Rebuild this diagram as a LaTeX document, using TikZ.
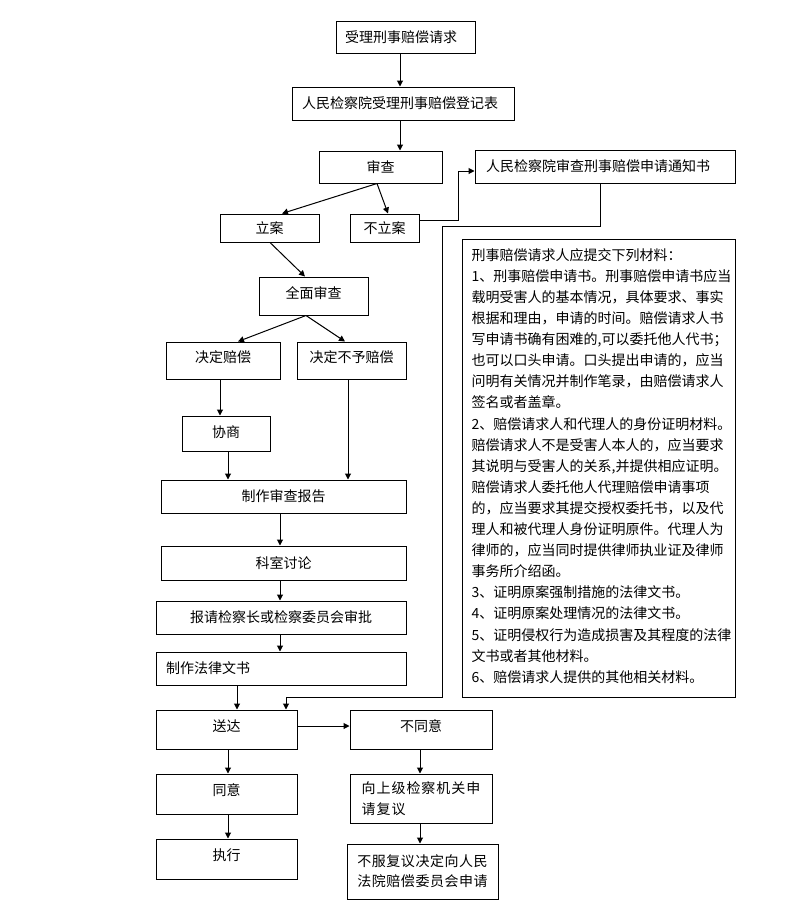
\documentclass[tikz,border=0pt]{standalone}
\usepackage{fontspec}
\setmainfont{Noto Sans CJK SC}
\newfontfamily\cjkwideA[LetterSpace=7]{Noto Sans CJK SC}
\newfontfamily\cjkwideB[LetterSpace=4]{Noto Sans CJK SC}
\usetikzlibrary{arrows.meta}
\begin{document}
\begin{tikzpicture}[x=1pt,y=-1pt,
  box/.style={draw, line width=1pt, inner ysep=0pt, font=\fontsize{14}{21}\selectfont},
  one/.style={text height=10.5pt, text depth=#1},
  one/.default=0pt,
  lbox/.style={align=left, inner xsep=#1},
  arr/.style={line width=1pt, -{Triangle[length=6pt,width=6pt]}}]
\useasboundingbox (0,0) rectangle (793,921);

\node[box, one, lbox=9pt, text width=121pt, minimum width=139pt, minimum height=32pt] (b1) at (405.5,37) {受理刑事赔偿请求};
\node[box, one, lbox=10pt, text width=202pt, minimum width=222pt, minimum height=33pt] (b2) at (403,103.5) {人民检察院受理刑事赔偿登记表};
\node[box, one, minimum width=123pt, minimum height=32pt] (b3) at (380.5,167) {审查};
\node[box, one, lbox=11pt, text width=238pt, minimum width=260pt, minimum height=33pt] (b4) at (605,166.5) {人民检察院审查刑事赔偿申请通知书};
\node[box, one, minimum width=99pt, minimum height=28pt] (b5) at (269.5,228) {立案};
\node[box, one, minimum width=69pt, minimum height=28pt] (b6) at (384.5,228) {不立案};
\node[box, one=6pt, minimum width=109pt, minimum height=38pt] (b7) at (313.5,296) {全面审查};
\node[box, one=7pt, minimum width=114pt, minimum height=37pt] (b8) at (223,360.5) {决定赔偿};
\node[box, one=7pt, minimum width=109pt, minimum height=37pt] (b9) at (351.5,360.5) {决定不予赔偿};
\node[box, one=3pt, minimum width=88pt, minimum height=35pt] (b10) at (226,433.5) {协商};
\node[box, one, minimum width=245pt, minimum height=33pt] (b11) at (283.5,496.5) {制作审查报告};
\node[box, one, minimum width=245pt, minimum height=34pt] (b12) at (283.5,563) {科室讨论};
\node[box, one, minimum width=250pt, minimum height=33pt] (b13) at (281,617.5) {报请检察长或检察委员会审批};
\node[box, one, lbox=10pt, text width=230pt, minimum width=250pt, minimum height=33pt] (b14) at (281,668.5) {制作法律文书};
\node[box, one=7pt, minimum width=141pt, minimum height=39pt] (b15) at (226.5,729.5) {送达};
\node[box, one=7pt, minimum width=142pt, minimum height=39pt] (b16) at (421,729.5) {不同意};
\node[box, one=8pt, minimum width=141pt, minimum height=40pt] (b17) at (226.5,794) {同意};
\node[box, one=8pt, minimum width=141pt, minimum height=40pt] (b18) at (226.5,859) {执行};
\node[box, align=left, minimum width=142pt, minimum height=49pt, font=\cjkwideA\fontsize{14}{21}\selectfont] (b19) at (421,798.5) {向上级检察机关申\\请复议};
\node[box, align=left, minimum width=151pt, minimum height=55pt, font=\cjkwideB\fontsize{14}{20}\selectfont] (b20) at (422.5,871.5) {不服复议决定向人民\\法院赔偿委员会申请};

\node[draw, line width=1pt, minimum width=273pt, minimum height=458pt, inner sep=0pt] (mat) at (598.5,468) {};
\node[anchor=north west, inner sep=0pt, align=left, font=\fontsize{14}{21.1}\selectfont] (mattext) at ([xshift=10pt,yshift=-9.7pt]mat.north west) {%
刑事赔偿请求人应提交下列材料：\\
1、刑事赔偿申请书。刑事赔偿申请书应当\\
载明受害人的基本情况，具体要求、事实\\
根据和理由，申请的时间。赔偿请求人书\\
写申请书确有困难的,可以委托他人代书；\\
也可以口头申请。口头提出申请的，应当\\
问明有关情况并制作笔录，由赔偿请求人\\
签名或者盖章。\\
2、赔偿请求人和代理人的身份证明材料。\\
赔偿请求人不是受害人本人的，应当要求\\
其说明与受害人的关系,并提供相应证明。\\
赔偿请求人委托他人代理赔偿申请事项\\
的，应当要求其提交授权委托书，以及代\\
理人和被代理人身份证明原件。代理人为\\
律师的，应当同时提供律师执业证及律师\\
事务所介绍函。\\
3、证明原案强制措施的法律文书。\\
4、证明原案处理情况的法律文书。\\
5、证明侵权行为造成损害及其程度的法律\\
文书或者其他材料。\\
6、赔偿请求人提供的其他相关材料。};

\draw[arr] ([xshift=-5.5pt]b1.south) -- ([xshift=-3pt]b2.north);
\draw[arr] ([xshift=-3pt]b2.south) -- ([xshift=19.5pt]b3.north);
\draw[arr] ([xshift=-3.5pt]b3.south) -- ([xshift=12.5pt]b5.north);
\draw[arr] ([xshift=-3.5pt]b3.south) -- ([xshift=3.5pt]b6.north);
\draw[arr] ([yshift=8pt]b6.east) -- ++(39,0) |- ([yshift=-4.5pt]b4.west);
\draw[arr] ([xshift=-5pt]b4.south) -- ++(0,43) -- ++(-158,0) -- ++(0,471) -| ([xshift=59.5pt]b15.north);
\draw[arr] ([xshift=0.5pt]b5.south) -- ([xshift=-8.5pt]b7.north);
\draw[arr] ([xshift=-7.5pt]b7.south) -- ([xshift=15pt]b8.north);
\draw[arr] ([xshift=-7.5pt]b7.south) -- ([xshift=-6.5pt]b9.north);
\draw[arr] ([xshift=-3pt]b8.south) -- ([xshift=-6pt]b10.north);
\draw[arr] ([xshift=2pt]b10.south) -- ([xshift=-55.5pt]b11.north);
\draw[arr] ([xshift=-3.5pt]b9.south) -- ([xshift=64.5pt]b11.north);
\draw[arr] ([xshift=-3.5pt]b11.south) -- ([xshift=-3.5pt]b12.north);
\draw[arr] ([xshift=-3.5pt]b12.south) -- ([xshift=-1pt]b13.north);
\draw[arr] ([xshift=-1pt]b13.south) -- ([xshift=-1pt]b14.north);
\draw[arr] ([xshift=-44pt]b14.south) -- ([xshift=10.5pt]b15.north);
\draw[arr] ([yshift=3.5pt]b15.east) -- ([yshift=3.5pt]b16.west);
\draw[arr] ([xshift=1.5pt]b15.south) -- ([xshift=1.5pt]b17.north);
\draw[arr] ([xshift=1.5pt]b17.south) -- ([xshift=1.5pt]b18.north);
\draw[arr] ([xshift=-1pt]b16.south) -- ([xshift=-1pt]b19.north);
\draw[arr] ([xshift=-1pt]b19.south) -- ([xshift=-2.5pt]b20.north);
\end{tikzpicture}
\end{document}
